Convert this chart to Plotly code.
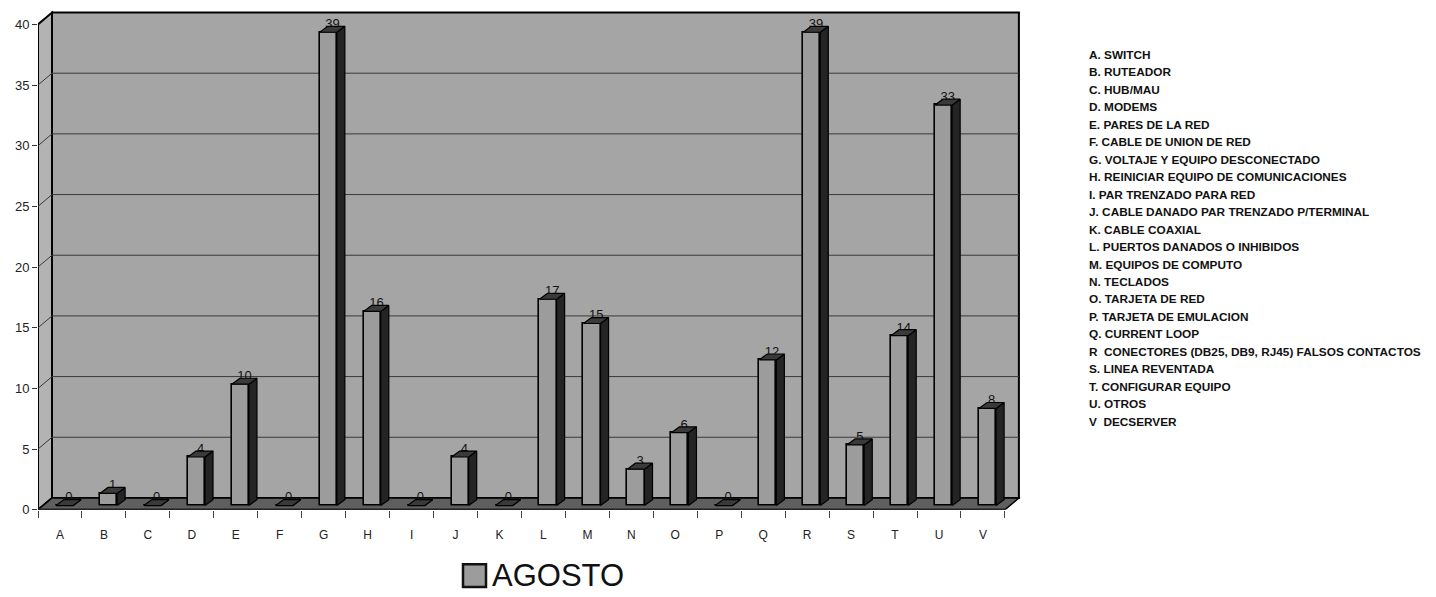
import plotly.graph_objects as go

# ---------------- data ----------------
categories = list("ABCDEFGHIJKLMNOPQRSTUV")
values = [0, 1, 0, 4, 10, 0, 39, 16, 0, 4, 0, 17, 15, 3, 6, 0, 12, 39, 5, 14, 33, 8]
descriptions = [
    "A. SWITCH",
    "B. RUTEADOR",
    "C. HUB/MAU",
    "D. MODEMS",
    "E. PARES DE LA RED",
    "F. CABLE DE UNION DE RED",
    "G. VOLTAJE Y EQUIPO DESCONECTADO",
    "H. REINICIAR EQUIPO DE COMUNICACIONES",
    "I. PAR TRENZADO PARA RED",
    "J. CABLE DANADO PAR TRENZADO P/TERMINAL",
    "K. CABLE COAXIAL",
    "L. PUERTOS DANADOS O INHIBIDOS",
    "M. EQUIPOS DE COMPUTO",
    "N. TECLADOS",
    "O. TARJETA DE RED",
    "P. TARJETA DE EMULACION",
    "Q. CURRENT LOOP",
    "R  CONECTORES (DB25, DB9, RJ45) FALSOS CONTACTOS",
    "S. LINEA REVENTADA",
    "T. CONFIGURAR EQUIPO",
    "U. OTROS",
    "V  DECSERVER",
]
series_name = "AGOSTO"
y_ticks = [0, 5, 10, 15, 20, 25, 30, 35, 40]

# ---------------- geometry / style ----------------
W, H = 1436, 597
FONT = "Liberation Sans, Arial, sans-serif"
XPX = 43.95          # px per category
YPX = 12.3           # px per value unit
X0PX, Y0PX = 38, 516.7
DX, DY = 14 / XPX, 12 / YPX          # wall depth
SDX, SDY = 8 / XPX, 6 / YPX          # bar depth
BASE = 0.35
BW, BOFF = 0.39, -0.09
N = len(categories)
xr = [-0.5, N - 0.5 + DX + 0.03]
yr = [0, 41.3]
xdom = [X0PX / W, (X0PX + (xr[1] - xr[0]) * XPX) / W]
ydom = [(H - Y0PX) / H, (H - (Y0PX - yr[1] * YPX)) / H]

C_WALL = "#a5a5a5"
C_LWALL = "#b3b3b3"
C_FLOOR = "#5f5f5f"
C_FRONT = "#9c9c9c"
C_SIDE = "#242424"
C_TOP = "#3a3a3a"

idx = list(range(N))
fig = go.Figure()

# front faces
fig.add_trace(go.Bar(
    x=idx, y=values, base=BASE, width=BW, offset=BOFF,
    marker=dict(color=C_FRONT, line=dict(color="black", width=1.6)),
    name=series_name, showlegend=False, hoverinfo="skip"))

# side faces
sx, sy = [], []
for i, v in enumerate(values):
    x1 = i + BOFF + BW
    sx += [x1, x1 + SDX, x1 + SDX, x1, x1, None]
    sy += [BASE, BASE + SDY, BASE + v + SDY, BASE + v, BASE, None]
fig.add_trace(go.Scatter(x=sx, y=sy, mode="lines", fill="toself", fillcolor=C_SIDE,
                         line=dict(color="black", width=1.2), showlegend=False, hoverinfo="skip"))

# value labels (partly hidden behind bar tops)
fig.add_trace(go.Scatter(
    x=[i + 0.2 for i in idx], y=[BASE + v + 0.6 for v in values],
    mode="text", text=[str(v) for v in values],
    textfont=dict(family=FONT, size=13, color="#111"),
    showlegend=False, hoverinfo="skip", cliponaxis=False))

# top faces
tx, ty = [], []
for i, v in enumerate(values):
    x0 = i + BOFF
    x1 = x0 + BW
    t = BASE + v
    tx += [x0, x0 + SDX, x1 + SDX, x1, x0, None]
    ty += [t, t + SDY, t + SDY, t, t, None]
fig.add_trace(go.Scatter(x=tx, y=ty, mode="lines", fill="toself", fillcolor=C_TOP,
                         line=dict(color="black", width=1.2), showlegend=False, hoverinfo="skip"))

# ---------------- walls / floor ----------------
shapes = []
xl, xrr = -0.5, N - 0.5
ytop = y_ticks[-1]
shapes.append(dict(type="rect", xref="x", yref="y", x0=xl + DX, x1=xrr + DX, y0=DY, y1=ytop + DY,
                   fillcolor=C_WALL, line=dict(color="black", width=2), layer="below"))
shapes.append(dict(type="path", xref="x", yref="y",
                   path=f"M {xl},0 L {xl},{ytop} L {xl+DX},{ytop+DY} L {xl+DX},{DY} Z",
                   fillcolor=C_LWALL, line=dict(color="black", width=2), layer="below"))
for v in y_ticks[1:-1]:
    shapes.append(dict(type="line", xref="x", yref="y", x0=xl + DX, x1=xrr + DX, y0=v + DY, y1=v + DY,
                       line=dict(color="#3a3a3a", width=1), layer="below"))
    shapes.append(dict(type="line", xref="x", yref="y", x0=xl, x1=xl + DX, y0=v, y1=v + DY,
                       line=dict(color="#3a3a3a", width=1), layer="below"))
shapes.append(dict(type="path", xref="x", yref="y",
                   path=f"M {xl},0 L {xrr},0 L {xrr+DX},{DY} L {xl+DX},{DY} Z",
                   fillcolor=C_FLOOR, line=dict(color="black", width=1.5), layer="below"))
shapes.append(dict(type="line", xref="x", yref="y", x0=xl, x1=xrr, y0=0, y1=0,
                   line=dict(color="#222", width=2.5), layer="below"))

# legend box
shapes.append(dict(type="rect", xref="paper", yref="paper",
                   x0=463 / W, x1=486 / W, y0=(H - 595) / H, y1=(H - 572) / H,
                   fillcolor=C_FRONT, line=dict(color="#111", width=2.5)))

annotations = [dict(xref="paper", yref="paper", x=490 / W, y=(H - 583.5) / H,
                    xanchor="left", yanchor="middle", text=series_name, showarrow=False,
                    font=dict(family=FONT, size=31, color="#111"))]
for k, d in enumerate(descriptions):
    ypx = 55.7 + 17.7 * k
    annotations.append(dict(xref="paper", yref="paper", x=1087 / W, y=(H - ypx) / H,
                            xanchor="left", yanchor="middle", text="<b>" + d + "</b>", showarrow=False,
                            font=dict(family=FONT, size=11.8, color="#111")))

fig.update_layout(
    width=W, height=H, autosize=False,
    margin=dict(l=0, r=0, t=0, b=0, pad=0),
    paper_bgcolor="white", plot_bgcolor="white",
    shapes=shapes, annotations=annotations,
    xaxis=dict(domain=xdom, range=xr, tickmode="array", tickvals=idx, ticktext=categories,
               ticks="outside", ticklen=14, tickcolor="rgba(0,0,0,0)",
               minor=dict(tickmode="array", tickvals=[i - 0.5 for i in range(N + 1)],
                          ticks="outside", ticklen=7, tickcolor="#444", tickwidth=1),
               showgrid=False, zeroline=False, showline=False,
               tickfont=dict(family=FONT, size=12, color="#222")),
    yaxis=dict(domain=ydom, range=yr, tickmode="array", tickvals=y_ticks,
               ticks="outside", ticklen=5, tickcolor="#333", tickwidth=1.2,
               showgrid=False, zeroline=False, showline=False,
               tickfont=dict(family=FONT, size=13, color="#222")),
    bargap=0, showlegend=False,
)

fig.write_html("out.html")
